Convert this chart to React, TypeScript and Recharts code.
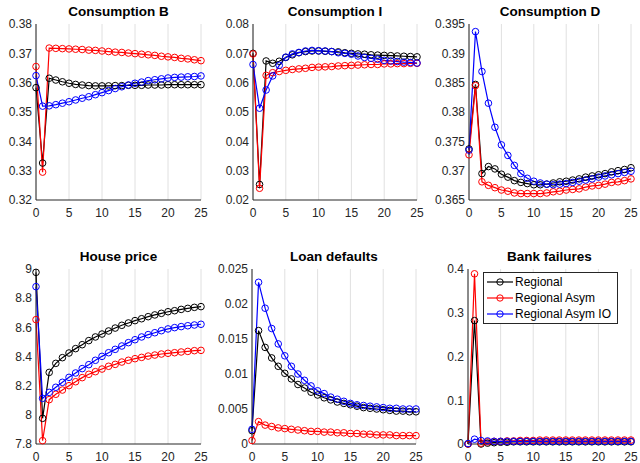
import React from 'react';
import { LineChart, Line, XAxis, YAxis, CartesianGrid, Legend } from 'recharts';

// x axis: periods after the shock
const periods = [0, 1, 2, 3, 4, 5, 6, 7, 8, 9, 10, 11, 12, 13, 14, 15, 16, 17, 18, 19, 20, 21, 22, 23, 24, 25];
const xTicks = [0, 5, 10, 15, 20, 25];

const seriesNames = ['Regional', 'Regional Asym', 'Regional Asym IO'];
const seriesColors = ['#000000', '#ff0000', '#0000ff'];

// Consumption B
const cbRegional = [0.3583, 0.3326, 0.3615, 0.3609, 0.3603, 0.3598, 0.3594, 0.3592, 0.359, 0.3589, 0.3589, 0.3589, 0.359, 0.359, 0.3591, 0.3591, 0.3591, 0.3592, 0.3592, 0.3592, 0.3593, 0.3593, 0.3593, 0.3593, 0.3593, 0.3593];
const cbAsym = [0.3655, 0.3295, 0.3718, 0.3717, 0.3716, 0.3715, 0.3714, 0.3713, 0.3711, 0.371, 0.3708, 0.3706, 0.3704, 0.3703, 0.3701, 0.3699, 0.3697, 0.3695, 0.3693, 0.369, 0.3688, 0.3686, 0.3683, 0.3681, 0.3678, 0.3675];
const cbAsymIO = [0.3624, 0.352, 0.3521, 0.3525, 0.353, 0.3535, 0.3541, 0.3547, 0.3552, 0.3559, 0.3566, 0.3573, 0.358, 0.3586, 0.3592, 0.3598, 0.3602, 0.3607, 0.361, 0.3613, 0.3616, 0.3618, 0.3619, 0.362, 0.3621, 0.3623];

// Consumption I
const ciRegional = [0.07, 0.0253, 0.0674, 0.0666, 0.0673, 0.0686, 0.0695, 0.0702, 0.0706, 0.0708, 0.0708, 0.0707, 0.0706, 0.0705, 0.0702, 0.07, 0.0698, 0.0697, 0.0695, 0.0694, 0.0693, 0.0692, 0.0691, 0.069, 0.0689, 0.0688];
const ciAsym = [0.0698, 0.024, 0.0625, 0.0634, 0.0638, 0.0642, 0.0645, 0.0647, 0.0649, 0.0652, 0.0653, 0.0654, 0.0655, 0.0657, 0.0658, 0.0659, 0.066, 0.0661, 0.0662, 0.0662, 0.0664, 0.0664, 0.0665, 0.0665, 0.0666, 0.0666];
const ciAsymIO = [0.0662, 0.0513, 0.0575, 0.0623, 0.0659, 0.0687, 0.0698, 0.0703, 0.0708, 0.071, 0.0709, 0.0708, 0.0706, 0.0702, 0.07, 0.0697, 0.0691, 0.0686, 0.0683, 0.068, 0.0676, 0.0674, 0.0672, 0.067, 0.0669, 0.0667];

// Consumption D
const cdRegional = [0.3737, 0.3847, 0.3695, 0.3707, 0.3703, 0.3694, 0.3689, 0.3683, 0.368, 0.3678, 0.3676, 0.3676, 0.3677, 0.3679, 0.3681, 0.3682, 0.3684, 0.3686, 0.3689, 0.3691, 0.3693, 0.3695, 0.3698, 0.37, 0.3702, 0.3705];
const cdAsym = [0.3727, 0.3845, 0.3681, 0.3675, 0.3671, 0.3667, 0.3665, 0.3662, 0.3661, 0.3661, 0.3661, 0.3661, 0.3662, 0.3664, 0.3665, 0.3667, 0.3668, 0.3669, 0.3672, 0.3674, 0.3675, 0.3677, 0.368, 0.3681, 0.3683, 0.3686];
const cdAsymIO = [0.3735, 0.3937, 0.3869, 0.3815, 0.3774, 0.3744, 0.3726, 0.3709, 0.3695, 0.3687, 0.3682, 0.3679, 0.3677, 0.3676, 0.3677, 0.3678, 0.368, 0.3682, 0.3684, 0.3686, 0.3689, 0.3691, 0.3693, 0.3695, 0.3697, 0.3699];

// House price
const hpRegional = [8.977, 7.976, 8.291, 8.353, 8.392, 8.424, 8.454, 8.481, 8.509, 8.534, 8.554, 8.575, 8.595, 8.614, 8.63, 8.646, 8.659, 8.673, 8.685, 8.696, 8.707, 8.714, 8.723, 8.73, 8.737, 8.742];
const hpAsym = [8.653, 7.823, 8.104, 8.141, 8.17, 8.2, 8.227, 8.255, 8.278, 8.296, 8.314, 8.333, 8.346, 8.362, 8.374, 8.385, 8.394, 8.403, 8.41, 8.417, 8.422, 8.426, 8.431, 8.435, 8.44, 8.442];
const hpAsymIO = [8.879, 8.113, 8.154, 8.189, 8.223, 8.257, 8.287, 8.317, 8.344, 8.374, 8.401, 8.426, 8.449, 8.472, 8.495, 8.515, 8.534, 8.55, 8.563, 8.577, 8.589, 8.598, 8.605, 8.611, 8.616, 8.621];

// Loan defaults
const ldRegional = [0.0019, 0.0162, 0.0138, 0.0123, 0.0111, 0.0101, 0.0093, 0.0085, 0.008, 0.0074, 0.007, 0.0066, 0.0063, 0.006, 0.0058, 0.0056, 0.0054, 0.0052, 0.0051, 0.005, 0.0049, 0.0048, 0.0047, 0.0047, 0.0046, 0.0046];
const ldAsym = [0.0005, 0.0032, 0.0027, 0.0025, 0.0023, 0.0022, 0.0021, 0.002, 0.0019, 0.0018, 0.0018, 0.0017, 0.0017, 0.0016, 0.0016, 0.0015, 0.0015, 0.0014, 0.0014, 0.0013, 0.0013, 0.0013, 0.0012, 0.0012, 0.0012, 0.0012];
const ldAsymIO = [0.0021, 0.0231, 0.0194, 0.0165, 0.0143, 0.0126, 0.0111, 0.01, 0.0091, 0.0083, 0.0076, 0.0072, 0.0067, 0.0064, 0.0061, 0.0058, 0.0056, 0.0055, 0.0054, 0.0053, 0.0052, 0.0051, 0.0051, 0.005, 0.005, 0.005];

// Bank failures
const bfRegional = [0, 0.282, 0, 0.002, 0.003, 0.004, 0.004, 0.005, 0.005, 0.005, 0.005, 0.005, 0.005, 0.005, 0.005, 0.005, 0.005, 0.005, 0.005, 0.005, 0.005, 0.005, 0.005, 0.005, 0.005, 0.005];
const bfAsym = [0, 0.389, 0.002, 0.005, 0.006, 0.006, 0.007, 0.007, 0.008, 0.008, 0.008, 0.009, 0.009, 0.009, 0.009, 0.009, 0.009, 0.009, 0.009, 0.009, 0.009, 0.009, 0.009, 0.009, 0.009, 0.009];
const bfAsymIO = [0.001, 0.011, 0.008, 0.007, 0.006, 0.006, 0.006, 0.006, 0.006, 0.006, 0.006, 0.006, 0.006, 0.006, 0.006, 0.006, 0.006, 0.006, 0.006, 0.006, 0.006, 0.006, 0.006, 0.006, 0.006, 0.006];

const AXIS = '#262626';
const PAD_L = 40;
const PAD_T = 24;
const PAD_R = 10;
const PAD_B = 24;

type Panel = {
  title: string;
  left: number;
  top: number;
  width: number;
  height: number;
  domain: [number, number];
  ticks: number[];
  series: number[][];
  legend?: boolean;
};

const panels: Panel[] = [
  { title: 'Consumption B', left: 36, top: 24, width: 165, height: 176, domain: [0.32, 0.38], ticks: [0.32, 0.33, 0.34, 0.35, 0.36, 0.37, 0.38], series: [cbRegional, cbAsym, cbAsymIO] },
  { title: 'Consumption I', left: 253, top: 24, width: 164, height: 176, domain: [0.02, 0.08], ticks: [0.02, 0.03, 0.04, 0.05, 0.06, 0.07, 0.08], series: [ciRegional, ciAsym, ciAsymIO] },
  { title: 'Consumption D', left: 469, top: 24, width: 162, height: 176, domain: [0.365, 0.395], ticks: [0.365, 0.37, 0.375, 0.38, 0.385, 0.39, 0.395], series: [cdRegional, cdAsym, cdAsymIO] },
  { title: 'House price', left: 36, top: 269, width: 165, height: 175, domain: [7.8, 9], ticks: [7.8, 8, 8.2, 8.4, 8.6, 8.8, 9], series: [hpRegional, hpAsym, hpAsymIO] },
  { title: 'Loan defaults', left: 252, top: 269, width: 164, height: 175, domain: [0, 0.025], ticks: [0, 0.005, 0.01, 0.015, 0.02, 0.025], series: [ldRegional, ldAsym, ldAsymIO] },
  { title: 'Bank failures', left: 468, top: 269, width: 163, height: 175, domain: [0, 0.4], ticks: [0, 0.1, 0.2, 0.3, 0.4], series: [bfRegional, bfAsym, bfAsymIO], legend: true },
];

const fmt = (v: number) => String(Number(v.toFixed(4)));

const LegendBox = (props: any) => {
  const { payload } = props;
  return (
    <div style={{ border: `1px solid ${AXIS}`, background: '#fff', padding: '1px 4px 1px 3px', width: 135, boxSizing: 'border-box' }}>
      {(payload || []).map((entry: any) => (
        <div key={entry.value} style={{ display: 'flex', alignItems: 'center', height: 16, fontSize: 12, color: '#000', whiteSpace: 'nowrap' }}>
          <svg width={26} height={10}>
            <line x1={0} y1={5} x2={26} y2={5} stroke={entry.color} strokeWidth={1.2} />
            <circle cx={13} cy={5} r={3.2} fill="none" stroke={entry.color} />
          </svg>
          <span style={{ marginLeft: 2 }}>{entry.value}</span>
        </div>
      ))}
    </div>
  );
};

const PanelChart = ({ p }: { p: Panel }) => {
  const data = periods.map((t, i) => ({ t, a: p.series[0][i], b: p.series[1][i], c: p.series[2][i] }));
  return (
    <div style={{ position: 'absolute', left: p.left - PAD_L, top: p.top - PAD_T }}>
      <div style={{ position: 'absolute', left: PAD_L, width: p.width, top: PAD_T - 20, textAlign: 'center', fontWeight: 'bold', fontSize: 13.5, lineHeight: '16px', color: '#000' }}>
        {p.title}
      </div>
      <LineChart
        width={PAD_L + p.width + PAD_R}
        height={PAD_T + p.height + PAD_B}
        data={data}
        margin={{ top: PAD_T, right: PAD_R, bottom: 0, left: 0 }}
      >
        <CartesianGrid horizontal={false} stroke="#e0e0e0" />
        <XAxis
          dataKey="t"
          type="number"
          domain={[0, 25]}
          ticks={xTicks}
          height={PAD_B}
          axisLine={{ stroke: AXIS }}
          tickLine={false}
          tick={{ fill: AXIS, fontSize: 12 }}
          interval={0}
        />
        <YAxis
          type="number"
          domain={p.domain}
          ticks={p.ticks}
          width={PAD_L}
          axisLine={{ stroke: AXIS }}
          tickLine={false}
          tickSize={2}
          tickMargin={2}
          tick={{ fill: AXIS, fontSize: 12 }}
          tickFormatter={fmt}
          interval={0}
        />
        {['a', 'b', 'c'].map((key, i) => (
          <Line
            key={key}
            type="linear"
            dataKey={key}
            name={seriesNames[i]}
            stroke={seriesColors[i]}
            strokeWidth={1.2}
            dot={{ r: 3.3, fill: 'none', stroke: seriesColors[i], strokeWidth: 1 }}
            activeDot={false}
            isAnimationActive={false}
          />
        ))}
        {p.legend && (
          <Legend
            layout="vertical"
            align="center"
            verticalAlign="middle"
            wrapperStyle={{ left: 55, top: 27, width: 135 }}
            content={<LegendBox />}
          />
        )}
      </LineChart>
    </div>
  );
}

export default function App() {
  return (
    <div style={{ position: 'absolute', left: 0, top: 0, width: 640, height: 463, background: '#fff', fontFamily: '"Liberation Sans", Arial, sans-serif' }}>
      {panels.map((p) => (
        <PanelChart key={p.title} p={p} />
      ))}
    </div>
  );
}
